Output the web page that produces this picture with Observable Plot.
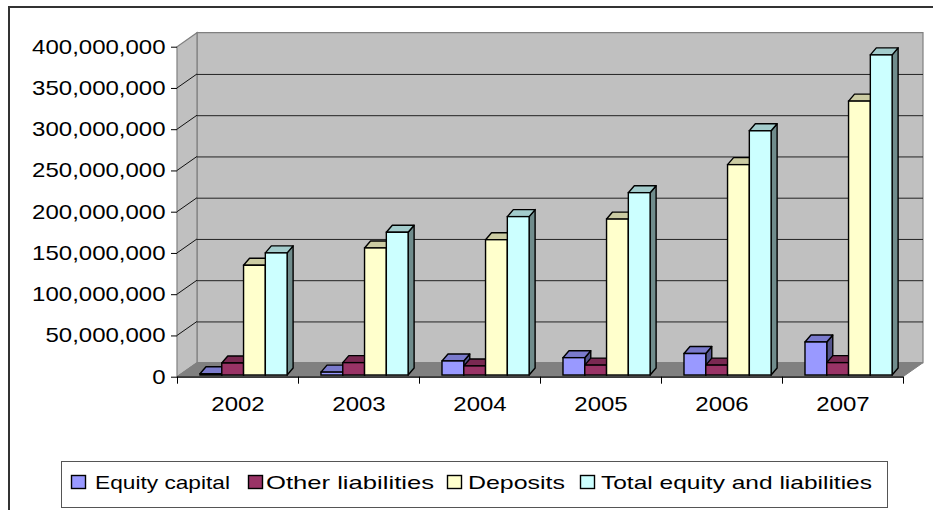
<!DOCTYPE html>
<html><head><meta charset="utf-8">
<script src="https://cdn.jsdelivr.net/npm/d3@7"></script>
<script src="https://cdn.jsdelivr.net/npm/@observablehq/plot@0.6"></script>
<style>
html,body{margin:0;padding:0;background:#fff;overflow:hidden;width:933px;height:510px;}
#root{position:relative;width:933px;height:510px;font-family:"Liberation Sans",Arial,sans-serif;}
#frame{position:absolute;left:8px;top:6px;width:1000px;height:600px;border:2px solid #333;box-sizing:border-box;}
#chart{position:absolute;left:0;top:0;}
#legend{position:absolute;left:0;top:0;}
</style></head><body>
<div id="root"><div id="frame"></div><div id="chart"></div><svg id="legend" width="933" height="510"></svg></div>
<script>
// ---- data ----
const years = ["2002", "2003", "2004", "2005", "2006", "2007"];
const seriesNames = ["Equity capital", "Other liabilities", "Deposits", "Total equity and liabilities"];
const seriesColors = ["#9999FF", "#993366", "#FFFFCC", "#CCFFFF"];
const equityCapital = [1.5e6, 3.5e6, 17e6, 21e6, 26e6, 40e6];
const otherLiabilities = [14.5e6, 15e6, 11e6, 12e6, 12e6, 15e6];
const deposits = [133e6, 154e6, 164e6, 189e6, 255e6, 332e6];
const totalEquityLiabilities = [148e6, 173e6, 192e6, 221e6, 296e6, 388e6];
const yTicks = [0, 50e6, 100e6, 150e6, 200e6, 250e6, 300e6, 350e6, 400e6];

// ---- layout / style ----
const seriesValues = [equityCapital, otherLiabilities, deposits, totalEquityLiabilities];
const CAT_OFF = 0.19, BAR_W = 0.18;      // in category units
const WDX = 20, WDY = -14;              // wall depth (px)
const BDX = 6, BDY = -7;                // bar depth (px)
const LIFT = -1.7;                      // bar front offset from floor front
const K = 1.2;                          // horizontal text stretch
const yMax = yTicks[yTicks.length - 1];

const rows = [];
years.forEach((yr, c) => {
  seriesNames.forEach((s, i) => {
    const x1 = c + CAT_OFF + i * BAR_W;
    rows.push({year: yr, series: s, si: i, value: seriesValues[i][c], x1, x2: x1 + BAR_W});
  });
});

function shade(col, k) {
  const c = d3.rgb(col);
  return d3.rgb(c.r * k, c.g * k, c.b * k).formatHex();
}

// walls and floor, computed through Plot's scales
function wallsMark(index, scales) {
  const {x, y} = scales;
  const g = d3.create("svg:g");
  const X0 = x(0), X6 = x(years.length), Y0 = y(0), YT = y(yMax);
  g.append("path").attr("d", `M${X0+WDX},${YT+WDY}L${X6+WDX},${YT+WDY}L${X6+WDX},${Y0+WDY}L${X0+WDX},${Y0+WDY}Z`)
    .attr("fill", "#C0C0C0").attr("stroke", "#808080").attr("stroke-width", 1.2);
  g.append("path").attr("d", `M${X0},${Y0}L${X0},${YT}L${X0+WDX},${YT+WDY}L${X0+WDX},${Y0+WDY}Z`)
    .attr("fill", "#C0C0C0").attr("stroke", "#808080").attr("stroke-width", 1.2);
  g.append("path").attr("d", `M${X0},${Y0}L${X6},${Y0}L${X6+WDX},${Y0+WDY}L${X0+WDX},${Y0+WDY}Z`)
    .attr("fill", "#808080").attr("stroke", "#808080");
  yTicks.slice(1, -1).forEach(v => {
    g.append("line").attr("x1", X0).attr("y1", y(v)).attr("x2", X0 + WDX).attr("y2", y(v) + WDY)
      .attr("stroke", "#111").attr("stroke-width", 1);
  });
  return g.node();
}

// top & side faces of the 3D bars, through Plot's scales
function barFacesMark(index, scales) {
  const {x, y} = scales;
  const g = d3.create("svg:g");
  for (const d of rows) {
    const X1 = x(d.x1), X2 = x(d.x2), Y0 = y(0) + LIFT, YT = y(d.value) + LIFT;
    const col = seriesColors[d.si];
    g.append("path").attr("d", `M${X2},${YT}L${X2+BDX},${YT+BDY}L${X2+BDX},${Y0+BDY}L${X2},${Y0}Z`)
      .attr("fill", shade(col, 0.55)).attr("stroke", "#000").attr("stroke-width", 1.4).attr("stroke-linejoin", "round");
    g.append("path").attr("d", `M${X1},${YT}L${X2},${YT}L${X2+BDX},${YT+BDY}L${X1+BDX},${YT+BDY}Z`)
      .attr("fill", shade(col, 0.8)).attr("stroke", "#000").attr("stroke-width", 1.4).attr("stroke-linejoin", "round");
  }
  return g.node();
}

const H = 440;
const chart = Plot.plot({
  width: 933,
  height: H,
  marginLeft: 177,
  marginRight: 30,
  marginTop: 46.7,
  marginBottom: H - 376.7,
  style: {background: "transparent", fontFamily: "'Liberation Sans', Arial, sans-serif", fontSize: "20px", color: "#000", overflow: "visible"},
  x: {type: "linear", domain: [0, years.length], axis: null},
  y: {type: "linear", domain: [0, yMax], axis: null},
  color: {domain: seriesNames, range: seriesColors},
  marks: [
    wallsMark,
    Plot.ruleY(yTicks.slice(1, -1), {x1: 0, x2: years.length, dx: WDX, dy: WDY, stroke: "#222", strokeWidth: 1}),
    barFacesMark,
    Plot.rect(rows, {x1: "x1", x2: "x2", y1: 0, y2: "value", dy: LIFT, fill: "series", stroke: "#000", strokeWidth: 1.4}),
    Plot.ruleY([0], {stroke: "#000", strokeWidth: 1.2}),
    Plot.axisY({ticks: yTicks, tickFormat: d3.format(","), tickSize: 6, tickPadding: 6, fontSize: 20, label: null, stroke: "#000"}),
    Plot.axisX({ticks: d3.range(years.length + 1), tickFormat: () => "", tickSize: 7, label: null, stroke: "#000"}),
    Plot.text(years, {x: (d, i) => i + 0.5, y: () => 0, dy: 27.3, fontSize: 20, fill: "#000"})
  ]
});

function stretch(root, k) {
  root.querySelectorAll("text").forEach(t => {
    const tr = t.getAttribute("transform") || "";
    const xa = t.getAttribute("x");
    if (xa !== null && xa !== "") t.setAttribute("x", +xa / k);
    t.setAttribute("transform", (tr + ` scale(${k},1)`).trim());
  });
}
stretch(chart, K);
document.getElementById("chart").appendChild(chart);

// ---- legend ----
const legend = d3.select("#legend");
legend.append("rect").attr("x", 61.5).attr("y", 461.5).attr("width", 826).attr("height", 46)
  .attr("fill", "#fff").attr("stroke", "#555").attr("stroke-width", 1);
const swatchX = [71, 248, 447, 580];
const labelX = [95, 266, 468, 601];
const labelW = [135, 168, 97, 271];
seriesNames.forEach((name, i) => {
  legend.append("rect").attr("x", swatchX[i] + 0.5).attr("y", 475.5).attr("width", 14).attr("height", 13)
    .attr("fill", seriesColors[i]).attr("stroke", "#000").attr("stroke-width", 1.4);
  legend.append("text").attr("x", labelX[i]).attr("y", 488.5)
    .attr("textLength", labelW[i]).attr("lengthAdjust", "spacingAndGlyphs")
    .attr("font-family", "'Liberation Sans', Arial, sans-serif").attr("font-size", 19).attr("fill", "#000")
    .text(name);
});
</script>
</body></html>
